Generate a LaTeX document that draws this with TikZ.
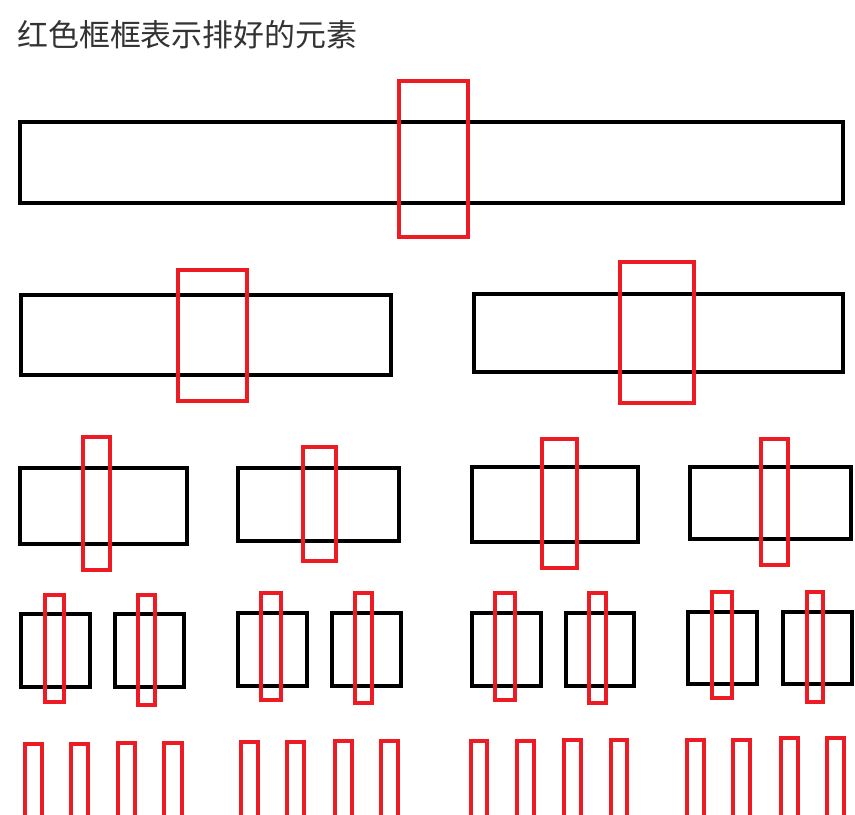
\documentclass[tikz,border=0pt]{standalone}
\usepackage{fontspec}
\newfontfamily\cjk{Noto Sans CJK SC}
\definecolor{boxred}{HTML}{ED1C24}
\definecolor{titlegray}{HTML}{333333}

\begin{document}
\begin{tikzpicture}[x=0.03cm, y=-0.03cm,
  block/.style={draw=black, line width=2.6pt},
  sorted/.style={draw=boxred, line width=2.6pt}]

  \useasboundingbox (0,0) rectangle (855,815);
  \clip (0,0) rectangle (855,815);

  % Title
  \node[anchor=west, inner sep=0pt, text=titlegray, font=\cjk\fontsize{26.4}{26.4}\selectfont] (title) at (17,35) {红色框框表示排好的元素};

  % First row
  \draw[block] (20,122) rectangle (843,203);
  \draw[sorted] (399,81) rectangle (468,237);

  % Second row
  \draw[block] (21,295) rectangle (391,375);
  \draw[block] (474,294) rectangle (843,372);
  \draw[sorted] (178,270) rectangle (247,401);
  \draw[sorted] (620,262) rectangle (694,403);

  % Third row
  \draw[block] (20,468) rectangle (187,544);
  \draw[block] (238,468) rectangle (399,541);
  \draw[block] (472,467) rectangle (638,542);
  \draw[block] (690,467) rectangle (851,539);
  \draw[sorted] (83,437) rectangle (110,570);
  \draw[sorted] (303,447) rectangle (336,561);
  \draw[sorted] (542,439) rectangle (577,568);
  \draw[sorted] (761,439) rectangle (788,565);

  % Fourth row
  \draw[block] (21,614) rectangle (90,687);
  \draw[block] (115,614) rectangle (184,687);
  \draw[block] (238,613) rectangle (307,686);
  \draw[block] (332,613) rectangle (401,686);
  \draw[block] (472,613) rectangle (541,686);
  \draw[block] (566,613) rectangle (634,686);
  \draw[block] (688,612) rectangle (757,684);
  \draw[block] (783,612) rectangle (852,684);
  \draw[sorted] (45,595) rectangle (64,702);
  \draw[sorted] (138,595) rectangle (155,705);
  \draw[sorted] (261,593) rectangle (281,700);
  \draw[sorted] (355,593) rectangle (372,703);
  \draw[sorted] (495,593) rectangle (515,700);
  \draw[sorted] (589,593) rectangle (606,703);
  \draw[sorted] (712,592) rectangle (732,698);
  \draw[sorted] (807,592) rectangle (823,702);

  % Fifth row
  \draw[sorted] (25,744) rectangle (42,830);
  \draw[sorted] (71,744) rectangle (88,830);
  \draw[sorted] (118,743) rectangle (135,830);
  \draw[sorted] (164,743) rectangle (182,830);
  \draw[sorted] (241,742) rectangle (258,830);
  \draw[sorted] (287,742) rectangle (304,830);
  \draw[sorted] (335,741) rectangle (352,830);
  \draw[sorted] (381,741) rectangle (398,830);
  \draw[sorted] (471,741) rectangle (487,830);
  \draw[sorted] (517,741) rectangle (534,830);
  \draw[sorted] (564,740) rectangle (581,830);
  \draw[sorted] (611,740) rectangle (627,830);
  \draw[sorted] (687,740) rectangle (704,830);
  \draw[sorted] (733,740) rectangle (750,830);
  \draw[sorted] (781,738) rectangle (798,830);
  \draw[sorted] (827,738) rectangle (844,830);

\end{tikzpicture}
\end{document}
